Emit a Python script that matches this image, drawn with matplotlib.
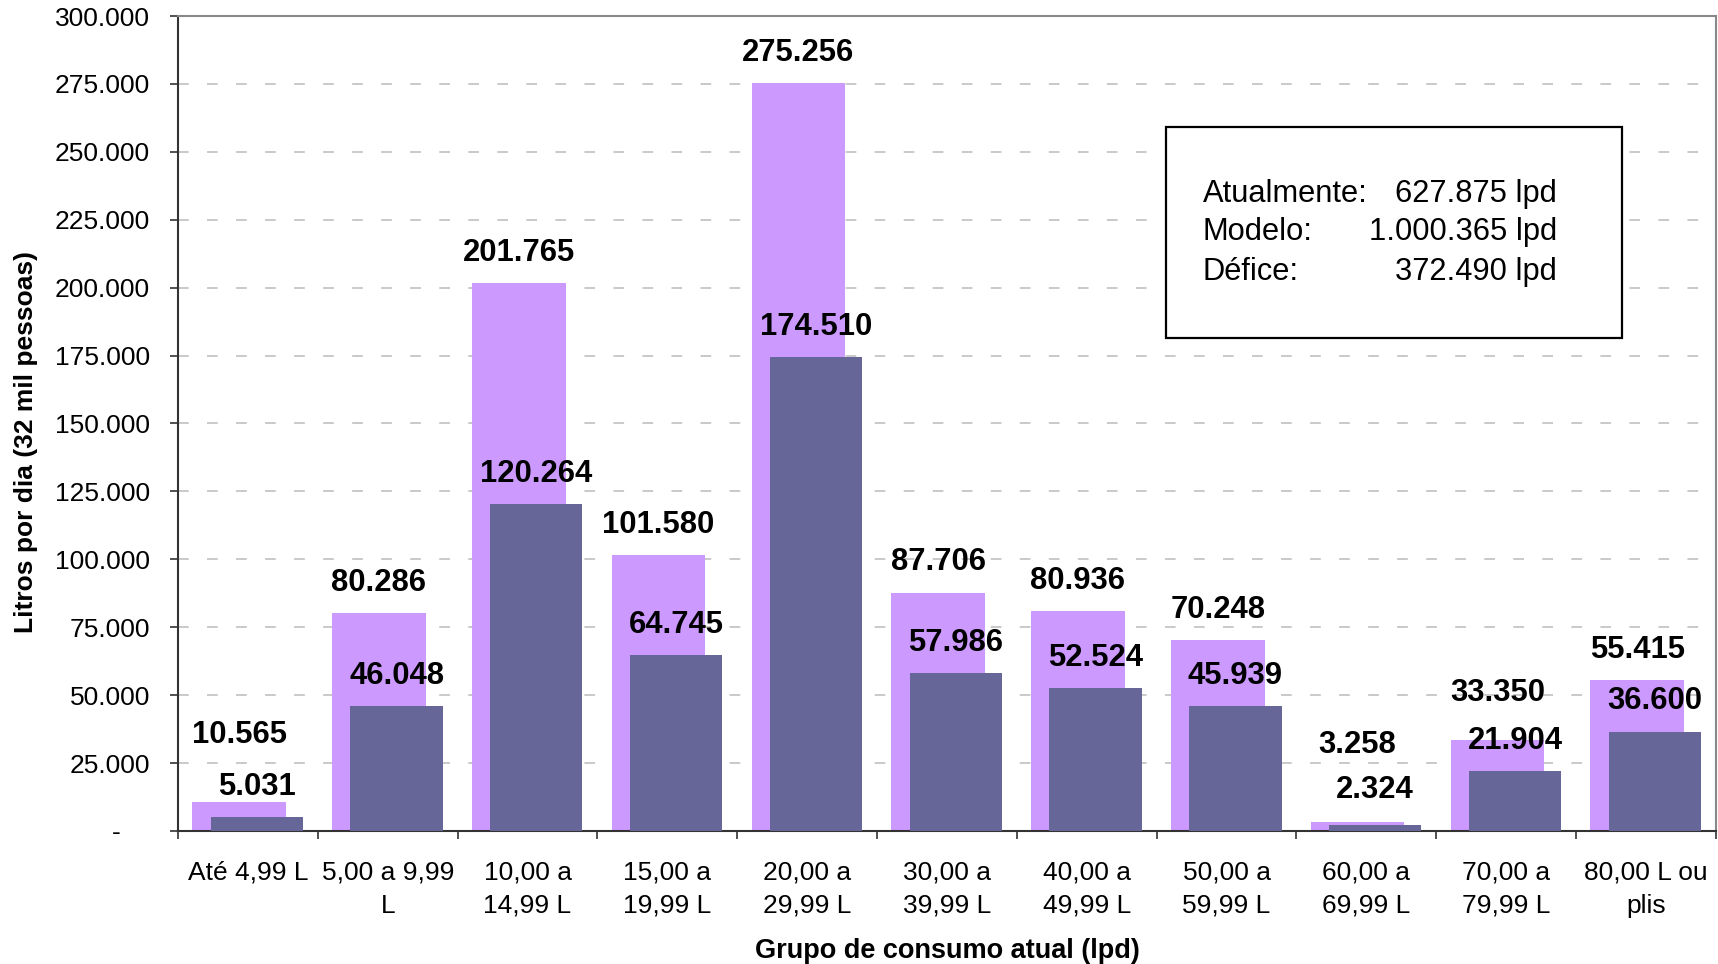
import numpy as np
import matplotlib
matplotlib.use('Agg')
import matplotlib.pyplot as plt
from matplotlib.ticker import FuncFormatter, FixedLocator
from matplotlib.patches import Rectangle

plt.rcParams['font.family'] = ['Liberation Sans', 'DejaVu Sans']

grupos = ["Até 4,99 L", "5,00 a 9,99\nL", "10,00 a\n14,99 L", "15,00 a\n19,99 L",
          "20,00 a\n29,99 L", "30,00 a\n39,99 L", "40,00 a\n49,99 L", "50,00 a\n59,99 L",
          "60,00 a\n69,99 L", "70,00 a\n79,99 L", "80,00 L ou\nplis"]
modelo = [10565, 80286, 201765, 101580, 275256, 87706, 80936, 70248, 3258, 33350, 55415]
atual = [5031, 46048, 120264, 64745, 174510, 57986, 52524, 45939, 2324, 21904, 36600]

# distancia dos rotulos acima das barras (pontos)
off_modelo = [43, 16, 16, 16, 16, 16, 16, 16, 50, 28, 16]
off_atual = [16, 16, 16, 16, 16, 16, 16, 16, 19, 16, 16]


def fmt(v):
    return "{:,}".format(int(v)).replace(",", ".")


fig = plt.figure(figsize=(17.18, 9.64), dpi=100)
ax = fig.add_axes([0.1036, 0.138, 0.8952, 0.8454])

x = np.arange(len(grupos))
b1 = ax.bar(x - 0.063, modelo, width=0.67, color='#CC99FF', zorder=2)
b2 = ax.bar(x + 0.063, atual, width=0.66, color='#666699', zorder=3)

for rect, v, o in zip(b1, modelo, off_modelo):
    ax.annotate(fmt(v), (rect.get_x() + rect.get_width() / 2, v), xytext=(0, o),
                textcoords='offset points', ha='center', va='baseline',
                fontsize=22.3, fontweight='bold', zorder=5)
for rect, v, o in zip(b2, atual, off_atual):
    ax.annotate(fmt(v), (rect.get_x() + rect.get_width() / 2, v), xytext=(0, o),
                textcoords='offset points', ha='center', va='baseline',
                fontsize=22.3, fontweight='bold', zorder=5)

ax.set_xlim(-0.5, len(grupos) - 0.5)
ax.set_ylim(0, 300000)
ax.yaxis.set_major_locator(FixedLocator(np.arange(0, 300001, 25000)))
ax.yaxis.set_major_formatter(FuncFormatter(lambda v, p: "-    " if v == 0 else fmt(v)))

ax.set_xticks(x)
ax.set_xticklabels(grupos, fontsize=19, linespacing=1.5)
ax.set_xticks(np.arange(len(grupos) + 1) - 0.5, minor=True)
ax.tick_params(axis='x', which='major', length=0, pad=21)
ax.tick_params(axis='x', which='minor', length=6, width=1.2, color='#333333')
ax.tick_params(axis='y', labelsize=19, length=6, width=1.2, color='#333333', pad=14)

ax.grid(axis='y', color='#bbbbbb', linewidth=1.1, linestyle=(0, (7, 12)))
ax.set_axisbelow(True)

for s in ['left', 'bottom']:
    ax.spines[s].set_color('#333333')
    ax.spines[s].set_linewidth(1.5)
for s in ['top', 'right']:
    ax.spines[s].set_color('#888888')
    ax.spines[s].set_linewidth(1.5)

ax.set_xlabel("Grupo de consumo atual (lpd)", fontsize=19.5, fontweight='bold')
ax.set_ylabel("Litros por dia (32 mil pessoas)", fontsize=19, fontweight='bold')
ax.xaxis.set_label_coords(0.5, -0.131)
ax.yaxis.set_label_coords(-0.091, 0.477)

# caixa com os totais
tot_atual = sum(atual)
tot_modelo = sum(modelo)
caixa = Rectangle((0.6424, 0.6049), 0.2965, 0.2589, transform=ax.transAxes,
                  facecolor='white', edgecolor='black', linewidth=1.6, zorder=6)
ax.add_patch(caixa)
linhas = [("Atualmente:", tot_atual), ("Modelo:", tot_modelo), ("Défice:", tot_modelo - tot_atual)]
for (nome, val), yy in zip(linhas, [0.7718, 0.7252, 0.6761]):
    ax.text(0.6664, yy, nome, transform=ax.transAxes, fontsize=22.2, va='baseline', zorder=7)
    ax.text(0.8966, yy, fmt(val) + " lpd", transform=ax.transAxes, fontsize=22.2,
            va='baseline', ha='right', zorder=7)

plt.savefig('out.png', dpi=100)
